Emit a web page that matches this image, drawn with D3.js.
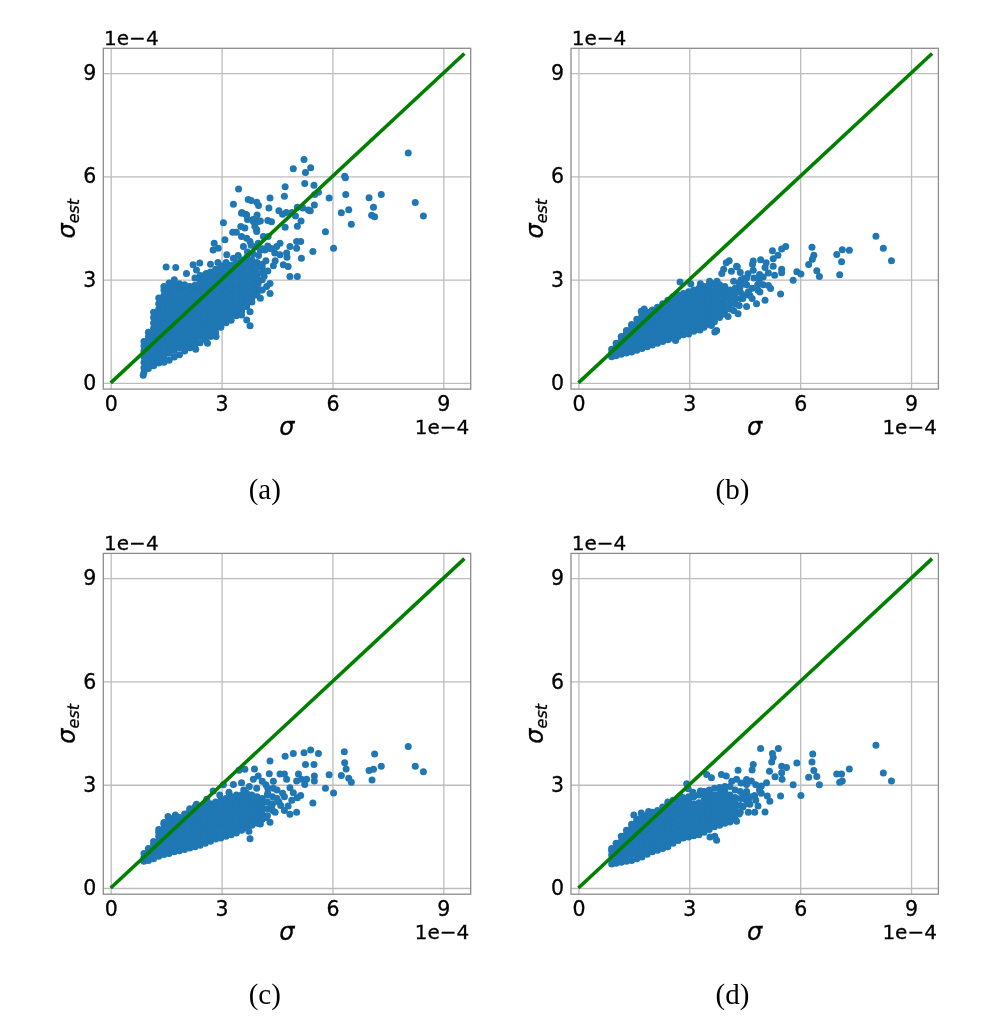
<!DOCTYPE html>
<html><head><meta charset="utf-8"><style>html,body{margin:0;background:#fff}svg{display:block;filter:blur(.4px)}</style>
<script src="https://cdn.jsdelivr.net/npm/d3@7"></script></head><body><div id="c"></div><script>
// All values are read off the picture, in units of 1e-4. Saturated cores are hand estimates by column.
const tickValues=[0,3,6,9];
const captions=["(a)","(b)","(c)","(d)"];
const coreXs=[.9,1.02,1.16,1.3,1.44,1.58,1.72,1.86,2,2.14,2.28,2.42,2.56,2.7,2.84,2.98,3.12,3.26,3.4,3.54,3.68,3.82,3.96,4.1,4.24,4.38];
const coreA=[[.3,.44,.6,.76,.93,1.07,1.2],[.42,.53,.68,.85,1,1.17,1.33,1.47],[.5,.63,.79,.95,1.1,1.27,1.42,1.59,1.74,1.9,2.05],[.58,.71,.87,1.02,1.19,1.34,1.51,1.66,1.83,1.98,2.15,2.3,2.47],[.6,.78,.94,1.11,1.26,1.43,1.58,1.75,1.9,2.07,2.22,2.39,2.54,2.7,2.8],[.66,.86,1.02,1.18,1.35,1.5,1.67,1.82,1.99,2.14,2.31,2.46,2.63,2.78,2.9],[.75,.94,1.11,1.26,1.43,1.58,1.75,1.9,2.07,2.22,2.39,2.54,2.71,2.86,3],[.82,1.02,1.18,1.35,1.5,1.67,1.82,1.99,2.14,2.31,2.46,2.63,2.78,2.88],[.93,1.1,1.26,1.43,1.58,1.75,1.9,2.07,2.22,2.39,2.54,2.71,2.85],[1.02,1.18,1.35,1.5,1.67,1.82,1.99,2.14,2.31,2.46,2.63,2.8],[1.1,1.26,1.43,1.58,1.75,1.9,2.07,2.22,2.39,2.54,2.71,2.84,3.05],[1.17,1.35,1.5,1.67,1.82,1.99,2.14,2.31,2.46,2.63,2.78,2.95,3.12],[1.26,1.43,1.58,1.75,1.9,2.07,2.22,2.39,2.54,2.71,2.86,3,3.15],[1.35,1.5,1.67,1.82,1.99,2.14,2.31,2.46,2.63,2.78,2.95,3.1,3.22],[1.46,1.58,1.75,1.9,2.07,2.22,2.39,2.54,2.71,2.86,3.03,3.18,3.3],[1.62,1.67,1.82,1.99,2.14,2.31,2.46,2.63,2.78,2.95,3.1,3.27,3.4],[1.75,1.9,2.07,2.22,2.39,2.54,2.71,2.86,3.03,3.18,3.35,3.5],[1.82,1.99,2.14,2.31,2.46,2.63,2.78,2.95,3.1,3.27,3.42],[1.95,2.07,2.22,2.39,2.54,2.71,2.86,3.03,3.18,3.35,3.5],[2.08,2.14,2.31,2.46,2.63,2.78,2.95,3.1,3.27,3.42,3.58],[2.22,2.39,2.54,2.71,2.86,3.03,3.18,3.35,3.52,3.65],[2.35,2.46,2.63,2.78,2.95,3.1,3.27,3.42,3.58],[2.55,2.71,2.86,3.03,3.18,3.35,3.5],[2.7,3,3.2,3.45],[],[]];
const coreB=[[.76,.87,.98],[.79,.93,1.05,1.15],[.83,.97,1.12,1.24,1.35],[.87,1.02,1.17,1.32,1.45,1.52],[.9,1.05,1.2,1.36,1.5,1.64,1.7],[.95,1.1,1.26,1.41,1.56,1.72,1.85],[1,1.15,1.31,1.46,1.62,1.77,1.92,2],[1.05,1.2,1.36,1.51,1.67,1.82,1.97,2.05],[1.1,1.25,1.41,1.56,1.72,1.87,2.02,2.12],[1.15,1.3,1.46,1.61,1.77,1.92,2.08,2.2],[1.2,1.35,1.51,1.66,1.82,1.97,2.13,2.3],[1.25,1.4,1.56,1.71,1.87,2.02,2.18,2.33,2.4],[1.3,1.45,1.61,1.76,1.92,2.07,2.23,2.38,2.5],[1.35,1.5,1.66,1.81,1.97,2.12,2.28,2.43,2.55],[1.4,1.55,1.71,1.86,2.02,2.17,2.33,2.48,2.6],[1.42,1.6,1.76,1.91,2.07,2.22,2.38,2.53,2.65],[1.5,1.65,1.81,1.96,2.12,2.27,2.43,2.58,2.7],[1.55,1.7,1.86,2.01,2.17,2.32,2.48,2.63,2.75],[1.62,1.77,1.93,2.08,2.24,2.39,2.55,2.7,2.8],[1.7,1.84,2,2.15,2.31,2.46,2.62,2.77,2.85],[1.78,1.92,2.07,2.23,2.38,2.54,2.69,2.88],[1.9,2.02,2.17,2.33,2.48,2.64,2.79,2.85],[2,2.13,2.28,2.44,2.59,2.75,2.8],[2.15,2.3,2.46,2.6,2.7],[2.3,2.45,2.6,2.75],[2.45,2.65,2.8]];
const coreC=[[.78,.89,1],[.8,.93,1.05,1.15],[.85,.99,1.12,1.25,1.35],[.92,1.05,1.2,1.35,1.5,1.62,1.7],[.97,1.12,1.27,1.42,1.57,1.72,1.85,1.9],[1,1.16,1.31,1.47,1.62,1.78,1.93,2],[1.05,1.2,1.36,1.51,1.67,1.82,1.97,2.05],[1.08,1.24,1.39,1.55,1.7,1.86,2.01,2.05],[1.12,1.28,1.43,1.59,1.74,1.9,2.05,2.15],[1.16,1.32,1.47,1.63,1.78,1.94,2.09,2.25,2.3],[1.2,1.36,1.51,1.67,1.82,1.98,2.13,2.29,2.35],[1.24,1.4,1.55,1.71,1.86,2.02,2.17,2.33,2.35],[1.3,1.45,1.61,1.76,1.92,2.07,2.23,2.4],[1.36,1.51,1.67,1.82,1.98,2.13,2.29,2.45],[1.42,1.57,1.73,1.88,2.04,2.19,2.35,2.5],[1.45,1.6,1.76,1.91,2.07,2.22,2.38,2.55],[1.5,1.65,1.81,1.96,2.12,2.27,2.43,2.6],[1.55,1.7,1.86,2.01,2.17,2.32,2.48,2.65],[1.6,1.75,1.91,2.06,2.22,2.37,2.53,2.7],[1.68,1.83,1.99,2.14,2.3,2.45,2.6,2.7],[1.75,1.9,2.06,2.21,2.37,2.52,2.68,2.75],[1.82,1.97,2.13,2.28,2.44,2.59,2.7],[1.88,2.03,2.19,2.34,2.5,2.65],[2,2.15,2.3,2.45,2.6],[2.1,2.3,2.5,2.7],[2.25,2.45,2.65]];
const coreD=[[.7,.83,.96,1.08,1.15],[.72,.87,1.01,1.16,1.3],[.75,.9,1.05,1.2,1.35,1.5],[.78,.94,1.09,1.25,1.4,1.56,1.68],[.8,.97,1.13,1.28,1.44,1.59,1.75,1.85],[.85,1.01,1.16,1.32,1.47,1.63,1.78,1.94,2],[.9,1.05,1.21,1.36,1.52,1.67,1.83,1.98,2.1],[.98,1.12,1.27,1.43,1.58,1.74,1.89,2.05,2.12],[1.05,1.18,1.34,1.49,1.65,1.8,1.96,2.11,2.2],[1.1,1.25,1.41,1.56,1.72,1.87,2.03,2.18,2.25],[1.15,1.3,1.46,1.61,1.77,1.92,2.08,2.23,2.35],[1.2,1.36,1.51,1.67,1.82,1.98,2.13,2.29,2.44,2.5],[1.3,1.44,1.6,1.75,1.91,2.06,2.22,2.37,2.55],[1.38,1.52,1.67,1.83,1.98,2.14,2.29,2.45,2.6],[1.45,1.59,1.75,1.9,2.06,2.21,2.37,2.52,2.62],[1.48,1.63,1.79,1.94,2.1,2.25,2.41,2.56,2.65],[1.52,1.67,1.83,1.98,2.14,2.29,2.45,2.65],[1.55,1.7,1.86,2.01,2.17,2.32,2.48,2.7],[1.62,1.77,1.93,2.08,2.24,2.39,2.55,2.7,2.8],[1.7,1.85,2.01,2.16,2.32,2.47,2.63,2.78,2.85],[1.78,1.92,2.08,2.23,2.39,2.54,2.7,2.9],[1.82,1.97,2.13,2.28,2.44,2.59,2.75,2.92],[1.88,2.03,2.19,2.34,2.5,2.65,2.81,2.95],[1.92,2.08,2.24,2.39,2.55,2.7,2.95],[2,2.16,2.32,2.47,2.63,2.85],[2.2,2.4,2.6,2.8]];
const outA=[[8.05,6.68],[8.24,5.24],[8.46,4.85],[7.32,5.47],[6.99,5.38],[7.11,5.1],[7.06,4.87],[7.14,4.83],[6.33,6],[6.35,5.96],[6.36,5.47],[6.24,4.94],[6.44,5.03],[6.51,4.61],[5.91,5.37],[5.81,4.39],[6.03,3.91],[5.47,3.82],[5.23,6.49],[5.41,6.25],[4.94,6.22],[5.27,6.11],[5.25,5.79],[5.5,5.74],[4.72,5.7],[4.7,5.42],[3.46,5.63],[4.31,5.37],[5.62,5.54],[5.52,5.47],[5.51,5.17],[3.32,5.19],[5.05,5.1],[5.2,5.08],[5.35,5.02],[5.4,5],[4.9,4.95],[4.75,4.95],[4.65,4.9],[4.55,5],[5,4.85],[5.15,4.7],[5.05,4.55],[4.72,4.52],[4.35,4.68],[4.25,4.72],[4.28,5.08],[3.96,4.88],[4,5.15],[3.95,5.25],[3.8,5.3],[3.72,5.33],[3.55,4.95],[3.65,4.9],[3.7,4.75],[3.85,4.75],[3.95,4.7],[4.05,4.7],[3.9,4.55],[3.95,4.45],[3.05,4.65],[3.3,4.38],[3.4,4.38],[1.5,3.37],[1.76,3.35],[2.05,3.18],[2.23,3.43],[2.41,3.48],[2.32,3.28],[2.59,3.18],[2.77,3.86],[2.8,4.06],[2.91,3.91],[3.09,4.16],[3.14,3.72],[3.32,3.62],[3.54,4.93],[3.68,4.88],[3.52,4.54],[3.63,4.5],[3.86,4.69],[3.99,4.69],[3.54,4.25],[3.68,4.2],[3.77,4.11],[3.59,3.96],[3.95,4.4],[4.13,4.25],[3.99,4.06],[4.26,4.25],[4.31,3.91],[4.17,3.86],[4.49,3.96],[4.58,4.06],[4.44,3.77],[4.58,3.72],[4.76,3.77],[4.85,3.96],[5.03,4.11],[5.14,4.11],[5.03,3.91],[5.16,3.62],[4.77,3.65],[4.67,3.43],[4.8,3.38],[4.85,3.09],[5.05,3.09],[4.31,2.6],[4.31,2.89],[4.22,2.8],[4.05,2.46],[4.05,2.7],[3.77,2.07],[3.68,1.83],[3.77,1.66],[3.54,1.97],[3.72,2.36],[3.99,2.89],[4.35,3.9],[4.25,3.98],[4.1,3.9],[2.7,3.45],[2.9,3.5],[3.45,3.7],[3.7,3.8],[3.85,3.75],[4,3.7],[4.2,3.55],[4.4,3.4],[4.15,3.1],[2.3,.98],[2.62,1.15],[2.85,1.35],[.88,.22],[4.1,3.35],[4.25,3.25],[4.05,3.85],[4.45,3.55],[3.9,3.95],[3.8,4]];
const outB=[[8.05,4.26],[8.25,3.91],[8.47,3.55],[7.33,3.85],[7.14,3.87],[6.99,3.73],[7.12,3.52],[7.07,3.14],[6.32,3.94],[6.37,3.71],[6.33,3.59],[6.23,3.44],[6.45,3.26],[6.52,3.09],[5.91,3.23],[6.02,3.16],[5.81,2.98],[5.47,2.58],[5.61,3.96],[5.5,3.89],[5.4,3.71],[5.25,3.84],[5.27,3.61],[5.08,3.49],[4.93,3.58],[4.73,3.54],[4.71,3.45],[5.05,3.35],[5.27,3.39],[5.5,3.3],[5.5,3.2],[5.31,3.13],[5.14,3.19],[5,3.08],[4.89,2.98],[4.08,3.55],[4,3.49],[4.28,3.39],[3.93,3.3],[3.88,3.18],[4.14,3.24],[4.38,3.21],[4.59,3.17],[4.73,3.27],[4.48,3.03],[4.86,2.69],[5.05,2.4],[4.82,2.3],[5.14,2.83],[4.91,2.64],[5.2,2.74],[4.64,2.54],[4.55,2.22],[4.32,2.01],[4.05,1.93],[3.74,1.52],[3.69,1.48],[3.6,1.67],[2.75,2.93],[3.04,2.88],[2.78,2.5],[2.63,1.23],[3.29,1.54],[4.3,3.37],[4.4,3.0],[4.2,2.95],[4.55,2.85],[4.7,2.75],[4.5,2.55],[4.35,2.25],[3.9,2.0],[4.75,3.05],[4.9,3.15],[4.2,2.1],[3.75,2.95],[3.55,2.95],[3.3,2.88],[1.78,2.15],[1.7,2.08],[4.5,2.9],[4.6,2.65],[4.45,2.45],[4.7,2.45],[4.55,3.05],[4.85,2.85],[5,2.85],[4.35,2.9]];
const outC=[[8.05,4.11],[8.24,3.54],[8.46,3.38],[7.32,3.54],[7.14,3.89],[6.99,3.41],[7.11,3.45],[7.07,3.14],[6.32,3.96],[6.33,3.64],[6.37,3.46],[6.24,3.27],[6.44,3.19],[6.51,3.07],[5.91,3.29],[6.03,2.76],[5.81,2.9],[5.47,2.47],[5.41,4.01],[5.62,3.91],[5.23,3.93],[5.27,3.59],[5.5,3.59],[4.94,3.91],[4.72,3.83],[4.31,3.69],[3.47,3.42],[3.89,3.46],[3.63,3.45],[4.58,3.31],[4.7,3.31],[5.08,3.31],[5.51,3.25],[5.51,3.11],[4.76,3.16],[5.16,3.16],[5.3,3.16],[5.25,3.01],[5.03,3.11],[4.29,3.32],[3.99,3.25],[3.86,3.16],[4.1,3.1],[3.54,3.06],[3.32,3.01],[3.05,3],[2.77,2.82],[4.85,2.91],[4.94,2.77],[5.14,2.69],[5.03,2.2],[4.8,2.38],[4.85,2.14],[4.31,1.91],[4.05,1.86],[3.77,1.43],[3.74,1.65],[2.32,2.43],[4.4,2.9],[4.25,2.75],[4.5,2.6],[4.6,2.4],[4.35,2.35],[4.2,2.05],[4.45,2.2],[3.75,2.95],[3.95,2.9],[4.2,3.0],[3.6,2.85],[3.2,2.78],[2.95,2.7],[2.6,2.58],[1.55,2.08],[1.75,2.12],[5.05,2.62],[4.7,2.65],[4.5,2.85],[4.65,2.75],[4.55,2.5],[4.7,2.25],[4.9,2.55],[4.25,2.9],[4.4,3.1]];
const outD=[[8.05,4.15],[8.25,3.34],[8.47,3.11],[7.33,3.46],[7.12,3.31],[6.99,3.31],[7.14,3.11],[7.07,3.07],[6.34,3.89],[6.32,3.66],[6.37,3.41],[6.23,3.22],[6.45,3.24],[6.52,3],[5.91,3.63],[5.81,3],[6.02,2.69],[5.47,2.67],[4.93,4.05],[5.41,4.05],[5.25,3.91],[5.27,3.79],[5.23,3.66],[5.5,3.54],[5.63,3.5],[5.5,3.35],[5.17,3.39],[4.73,3.59],[4.7,3.43],[4.32,3.42],[4.68,3.11],[5.32,3.23],[5.51,3.16],[5.09,3.06],[4.95,2.96],[4.77,2.69],[5.11,2.67],[5.18,2.52],[5.05,2.21],[4.86,2.38],[4.77,2.2],[4.64,2.43],[4.28,1.94],[3.74,1.39],[3.56,1.48],[3.69,1.5],[3.47,3.3],[3.6,3.2],[3.87,3.3],[4,3.25],[4.28,3.16],[4.55,3.01],[2.93,3.03],[2.97,2.88],[2.75,2.67],[4.4,3.05],[4.55,2.8],[4.45,2.6],[4.6,2.55],[4.45,2.35],[4.6,2.2],[4.35,2.15],[4.15,3.1],[3.3,2.82],[3.1,2.78],[1.5,2.12],[1.9,2.22],[1.7,2.18],[4.8,3.0],[4.95,2.75],[4.5,2.7],[4.65,2.65],[4.55,2.45],[4.8,2.55],[4.9,2.85],[4.55,3.15]];
const coreSets=[coreA,coreB,coreC,coreD], outSets=[outA,outB,outC,outD];
const xDomain=[-.2,9.74], yDomain=[-.18,9.72], lineEnd=9.57;
const panelWidth=367.4, panelHeight=340.8, lefts=[103.3,571], tops=[48.3,553.4];
const blue="#1f77b4", green="#008000", sans="'DejaVu Sans'";

const svg=d3.select("#c").append("svg").attr("width",997).attr("height",1022).attr("font-family",sans);
captions.forEach((cap,i)=>{
  const left=lefts[i%2], top=tops[i>>1];
  const x=d3.scaleLinear(xDomain,[left,left+panelWidth]);
  const y=d3.scaleLinear(yDomain,[top+panelHeight,top]);
  const g=svg.append("g");
  const ink=s=>s.attr("fill","#000").attr("stroke","#000").attr("stroke-width",.3);
  const gx=g.append("g").attr("transform",`translate(0,${top+panelHeight})`)
    .call(d3.axisBottom(x).tickValues(tickValues).tickSize(-panelHeight).tickPadding(7).tickFormat(d3.format("d")));
  const gy=g.append("g").attr("transform",`translate(${left},0)`)
    .call(d3.axisLeft(y).tickValues(tickValues).tickSize(-panelWidth).tickPadding(7).tickFormat(d3.format("d")));
  [gx,gy].forEach(a=>{a.select(".domain").remove();
    a.selectAll(".tick line").attr("stroke","#bdbdbd").attr("stroke-width",1.3);
    a.selectAll("text").attr("font-size",20.5).attr("font-family",sans).call(ink);});
  const pts=[];
  coreXs.forEach((cx,k)=>(coreSets[i][k]||[]).forEach(v=>pts.push([cx,v])));
  outSets[i].forEach(p=>pts.push(p));
  g.append("g").attr("fill",blue).selectAll("circle").data(pts).join("circle")
    .attr("cx",d=>x(d[0])).attr("cy",d=>y(d[1])).attr("r",3.5);
  g.append("path").datum([0,lineEnd]).attr("fill","none").attr("stroke",green).attr("stroke-width",3.6)
    .attr("d",d3.line().x(d=>x(d)).y(d=>y(d)));
  g.append("rect").attr("x",left).attr("y",top).attr("width",panelWidth).attr("height",panelHeight)
    .attr("fill","none").attr("stroke","#8c8c8c").attr("stroke-width",1.3);
  g.append("text").attr("x",left+.8).attr("y",top-3.3).attr("font-size",20).call(ink).text("1e\u22124");
  g.append("text").attr("x",left+panelWidth-1.5).attr("y",top+panelHeight+44.5).attr("text-anchor","end").attr("font-size",20).call(ink).text("1e\u22124");
  g.append("text").attr("x",left+183.5).attr("y",top+panelHeight+46).attr("text-anchor","middle").attr("font-size",24).attr("font-style","italic").call(ink).text("\u03c3");
  const yl=g.append("text").attr("transform",`translate(${left-28.5},${top+panelHeight/2}) rotate(-90)`).attr("text-anchor","middle").attr("font-size",24).attr("font-style","italic").call(ink);
  yl.append("tspan").text("\u03c3");
  yl.append("tspan").attr("font-size",16).attr("dy",4).text("est");
  g.append("text").attr("x",left+161.5).attr("y",top+panelHeight+110).attr("text-anchor","middle").attr("font-family","'Liberation Serif'").attr("font-size",29).attr("fill","#000").text(cap);
});
</script></body></html>
